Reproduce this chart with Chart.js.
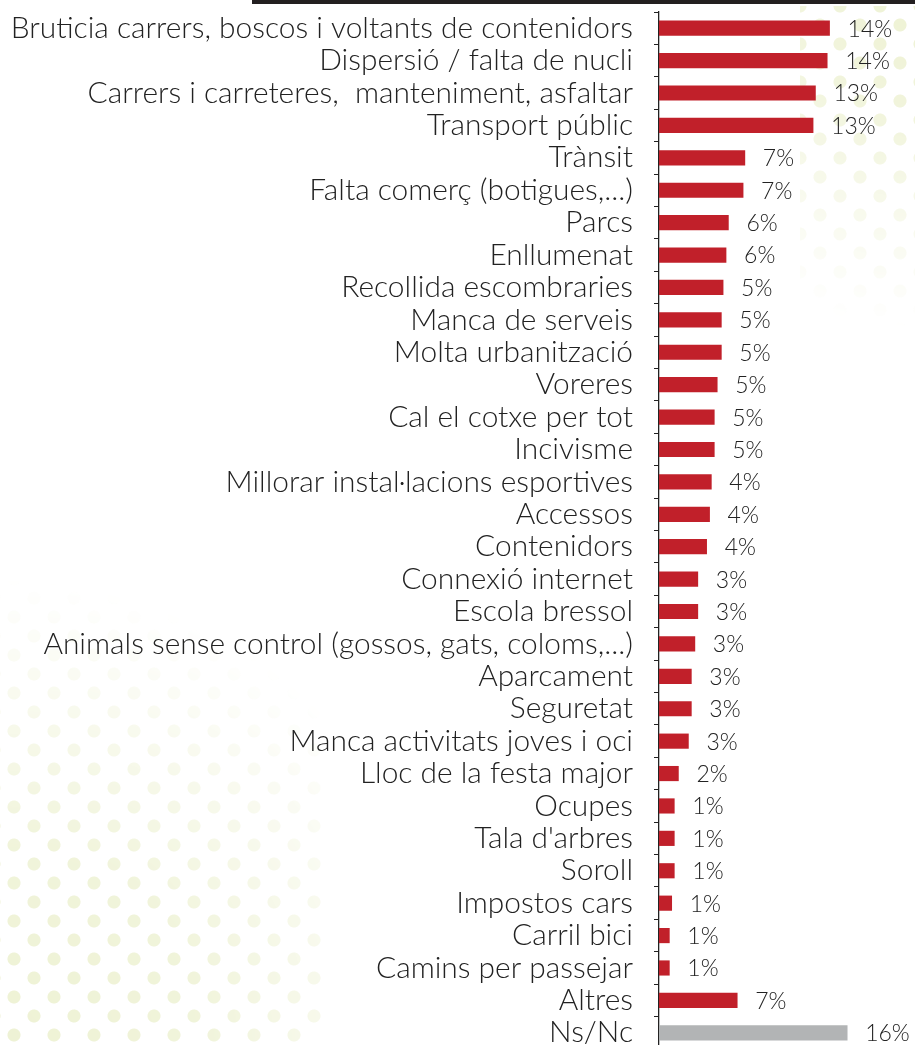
<!DOCTYPE html>
<html>
<head>
<meta charset="utf-8">
<script src="https://cdn.jsdelivr.net/npm/chart.js@4"></script>
<style>
  html, body { margin: 0; padding: 0; background: #ffffff; overflow: hidden; width: 915px; height: 1045px; }
  #wrap { position: absolute; left: 0; top: 0; width: 915px; height: 1052px; z-index: 1; }
  #topbar { position: absolute; left: 252px; top: 0; width: 663px; height: 4px; background: #231f20; z-index: 2; }
  .dots { position: absolute; z-index: 0;
    background-image:
      radial-gradient(circle, #eef2d4 0 6px, transparent 7px),
      radial-gradient(circle, #eef2d4 0 6px, transparent 7px);
    background-size: 40px 38px, 40px 38px;
    background-position: 0 0, 20px 19px; }
  #dotsBL { left: -6px; top: 560px; width: 330px; height: 490px;
    -webkit-mask-image: radial-gradient(circle at 0% 100%, #000 0%, rgba(0,0,0,0.85) 35%, transparent 80%);
            mask-image: radial-gradient(circle at 0% 100%, #000 0%, rgba(0,0,0,0.85) 35%, transparent 80%); }
  #dotsTR { left: 800px; top: 6px; width: 120px; height: 360px;
    -webkit-mask-image: radial-gradient(circle at 100% 0%, #000 0%, rgba(0,0,0,0.8) 30%, transparent 85%);
            mask-image: radial-gradient(circle at 100% 0%, #000 0%, rgba(0,0,0,0.8) 30%, transparent 85%); }
</style>
</head>
<body>
<div id="dotsBL" class="dots"></div>
<div id="dotsTR" class="dots"></div>
<div id="topbar"></div>
<div id="wrap"><canvas id="c" width="915" height="1052"></canvas></div>
<script>
const categories = [
  "Bruticia carrers, boscos i voltants de contenidors",
  "Dispersió / falta de nucli",
  "Carrers i carreteres,  manteniment, asfaltar",
  "Transport públic",
  "Trànsit",
  "Falta comerç (botigues,...)",
  "Parcs",
  "Enllumenat",
  "Recollida escombraries",
  "Manca de serveis",
  "Molta urbanització",
  "Voreres",
  "Cal el cotxe per tot",
  "Incivisme",
  "Millorar instal·lacions esportives",
  "Accessos",
  "Contenidors",
  "Connexió internet",
  "Escola bressol",
  "Animals sense control (gossos, gats, coloms,...)",
  "Aparcament",
  "Seguretat",
  "Manca activitats joves i oci",
  "Lloc de la festa major",
  "Ocupes",
  "Tala d'arbres",
  "Soroll",
  "Impostos cars",
  "Carril bici",
  "Camins per passejar",
  "Altres",
  "Ns/Nc"
];
const values = [14.5, 14.3, 13.3, 13.1, 7.3, 7.15, 5.9, 5.7, 5.45, 5.3, 5.3, 4.95, 4.7, 4.7, 4.45, 4.3, 4.05,
  3.3, 3.3, 3.05, 2.75, 2.75, 2.5, 1.65, 1.3, 1.3, 1.3, 1.08, 0.88, 0.88, 6.65, 16.0];
const valueLabels = ["14%", "14%", "13%", "13%", "7%", "7%", "6%", "6%", "5%", "5%", "5%", "5%", "5%", "5%",
  "4%", "4%", "4%", "3%", "3%", "3%", "3%", "3%", "3%", "2%", "1%", "1%", "1%", "1%", "1%", "1%", "7%", "16%"];
const specialCategories = ["Ns/Nc"];

const RED = "#c1202a";
const GREY = "#b2b4b5";
const TEXT = "#222222";
const FAMILY = "Lato";
const WEIGHT = "300";
const VALUE_SIZE = 23;

// fit font size so the longest label has the reference width
const mctx = document.createElement("canvas").getContext("2d");
mctx.font = WEIGHT + " 100px " + FAMILY;
const longest = Math.max(...categories.map(t => mctx.measureText(t).width));
const labelSize = Math.round(100 * 623 / longest * 10) / 10;

const valueLabelPlugin = {
  id: "valueLabels",
  afterDatasetsDraw(chart) {
    const ctx = chart.ctx;
    const meta = chart.getDatasetMeta(0);
    ctx.save();
    ctx.font = WEIGHT + " " + VALUE_SIZE + "px " + FAMILY;
    ctx.fillStyle = TEXT;
    ctx.textAlign = "left";
    ctx.textBaseline = "middle";
    meta.data.forEach((bar, i) => {
      ctx.fillText(valueLabels[i], bar.x + 18, bar.y + 1);
    });
    ctx.restore();
  }
};

new Chart(document.getElementById("c"), {
  type: "bar",
  data: {
    labels: categories,
    datasets: [{
      data: values,
      backgroundColor: categories.map(c => specialCategories.includes(c) ? GREY : RED),
      borderWidth: 0,
      barThickness: 14.5
    }]
  },
  options: {
    indexAxis: "y",
    responsive: false,
    animation: false,
    layout: { padding: { top: 12, bottom: 3, left: 0, right: 9 } },
    plugins: { legend: { display: false }, tooltip: { enabled: false } },
    scales: {
      x: { display: false, min: 0, max: 21 },
      y: {
        afterFit(scale) { scale.width = 659; scale.paddingTop = 0; scale.paddingBottom = 0; },
        grid: { display: true, drawOnChartArea: false, drawTicks: true, tickLength: 5, color: TEXT, offset: true, lineWidth: 1 },
        border: { display: true, color: TEXT, width: 1.3 },
        ticks: { color: TEXT, padding: 21, font: { family: FAMILY, size: labelSize, weight: WEIGHT }, autoSkip: false }
      }
    }
  },
  plugins: [valueLabelPlugin]
});
</script>
</body>
</html>
